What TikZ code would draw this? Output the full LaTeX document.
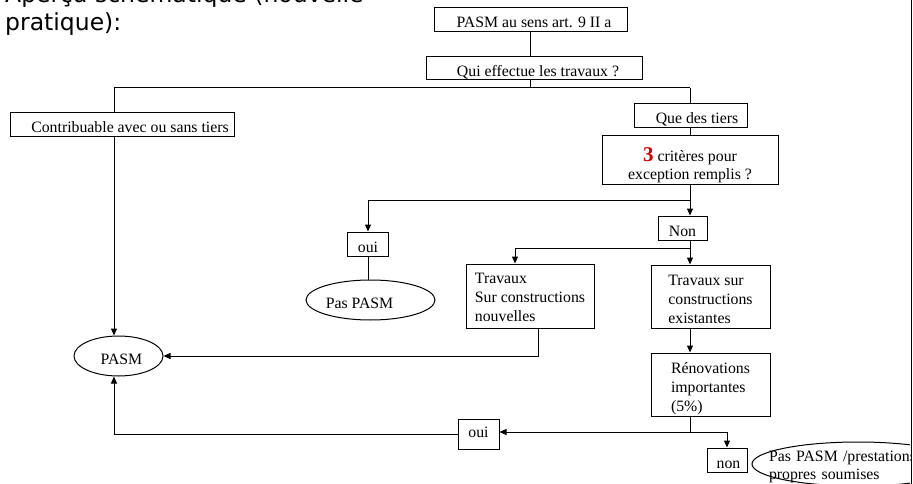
\documentclass[tikz,border=0pt]{standalone}
\usepackage{fontspec}
\setmainfont{Liberation Serif}
\newfontfamily\titrefont{DejaVu Sans}
\usetikzlibrary{shapes.geometric,arrows.meta}
\definecolor{rouge}{RGB}{204,0,0}

\begin{document}
\begin{tikzpicture}
[x=1pt,y=-1pt,
  boitedecorate/.style={shape=rectangle,draw,line width=1pt,inner sep=0pt,
    text height=16pt,text depth=0pt},%
  bulledecorate/.style={shape=ellipse,draw,line width=1pt,inner sep=0pt,
    text height=16pt,text depth=0pt},%
  linedecorate/.style={-,line width=1pt},%
  arrowdecorate/.style={-{Triangle[length=7pt,width=6pt]},line width=1pt},%
  font=\fontsize{15.8}{19}\selectfont]
\useasboundingbox (0,0) rectangle (913,484);
%% title
\node [anchor=base west,align=left,inner sep=0pt,
  font=\titrefont\fontsize{23.5}{28}\selectfont] (titre) at (5,31)
  {Aperçu schématique (nouvelle\\pratique):};
%% one-line boxes
\foreach \nodename/\x/\y/\w/\h/\decal/\texte in {
  art9/530.5/20/193/24/7/PASM au sens art. 9 II a,
  qui/534/68.5/216/23/8/Qui effectue les travaux ?,
  contrib/122/125/224/24/16/Contribuable avec ou sans tiers,
  tiers/690.5/116/113/24/13/Que des tiers,
  non/682.5/228/49/24/0/Non,
  oui/368/244/41/24/0/oui,
  nonfin/727/460/40/24/3/non} {
  \node (\nodename) at (\x,\y) [boitedecorate,minimum width=\w pt,
    minimum height=\h pt] {\hspace*{\decal pt}\texte};
}
\node (oui2) at (478.5,434) [boitedecorate,minimum width=41pt,
  minimum height=30pt,text height=11pt,text depth=5pt] {oui};
%% boxes with several lines
\node (crit) at (690,160) [boitedecorate,minimum width=176pt,
  minimum height=48pt,align=center,text height=39pt,
  font=\fontsize{15.8}{18}\selectfont]
  {{\fontsize{21}{18}\selectfont\bfseries\color{rouge}3} critères pour\\
   exception remplis ?};
\node (nouv) at (530,296) [boitedecorate,minimum width=128pt,
  minimum height=64pt,align=left,text height=51pt]
  {Travaux\\Sur constructions\\nouvelles};
\node (exist) at (710.5,296.5) [boitedecorate,minimum width=119pt,
  minimum height=63pt,align=left,text height=53pt]
  {Travaux sur\\constructions\\existantes};
\node (reno) at (710.5,384.5) [boitedecorate,minimum width=119pt,
  minimum height=63pt,align=left,text height=53pt]
  {Rénovations\\importantes\\(5\%)};
%% ellipses
\node (pasA) at (370.5,300) [bulledecorate,minimum width=129pt,
  minimum height=40pt] {Pas PASM\hspace*{22pt}};
\node (pasm) at (118.5,356) [bulledecorate,minimum width=89pt,
  minimum height=40pt] {\hspace*{6pt}PASM};
\begin{scope}
\clip (0,0) rectangle (910,484);
\node (pasfin) at (858,464) [bulledecorate,minimum width=212pt,
  minimum height=44pt,align=left,text width=146pt,text height=12pt,
  text depth=18pt,font=\fontsize{15.8}{18}\selectfont]
  {\hspace*{-16pt}Pas PASM /prestations\\\hspace*{-16pt}propres soumises};
\end{scope}
\draw [linedecorate] (911,0) -- (911,484);
%% branch points
\coordinate (fourche) at (530,88);
\coordinate (gauche) at (114,88);
\coordinate (droite) at (690,88);
\coordinate (choix) at (690,200);
\coordinate (choix2) at (690,248);
\coordinate (retour) at (690,432);
%% lines
\draw [linedecorate] (art9.south -| fourche) -- (qui.north -| fourche);
\draw [linedecorate] (qui.south -| fourche) -- (fourche);
\draw [linedecorate] (gauche) -- (droite);
\draw [linedecorate] (gauche) -- (gauche |- contrib.north);
\draw [linedecorate] (droite) -- (droite |- tiers.north);
\draw [linedecorate] (droite |- tiers.south) -- (droite |- crit.north);
\draw [linedecorate] (droite |- crit.south) -- (choix);
\draw [arrowdecorate] (choix) -| (oui.north);
\draw [arrowdecorate] (choix) -- (choix |- non.north);
\draw [linedecorate] (oui.south) -- (oui.south |- pasA.north);
\draw [linedecorate] (choix |- non.south) -- (choix2);
\draw [arrowdecorate] (choix2) -| ([xshift=-15pt]nouv.north);
\draw [arrowdecorate] (choix2) -- (choix2 |- exist.north);
\draw [arrowdecorate] (choix2 |- exist.south) -- (choix2 |- reno.north);
\draw [arrowdecorate] ([xshift=8pt]nouv.south) |- (pasm.east);
\draw [arrowdecorate] (gauche |- contrib.south) -- (gauche |- pasm.north);
\draw [linedecorate] (choix2 |- reno.south) -- (retour);
\draw [arrowdecorate] (retour) -- (retour -| oui2.east);
\draw [arrowdecorate] (retour) -| (nonfin.north);
\draw [arrowdecorate] (oui2.west) -| (gauche |- pasm.south);
\end{tikzpicture}
\end{document}
